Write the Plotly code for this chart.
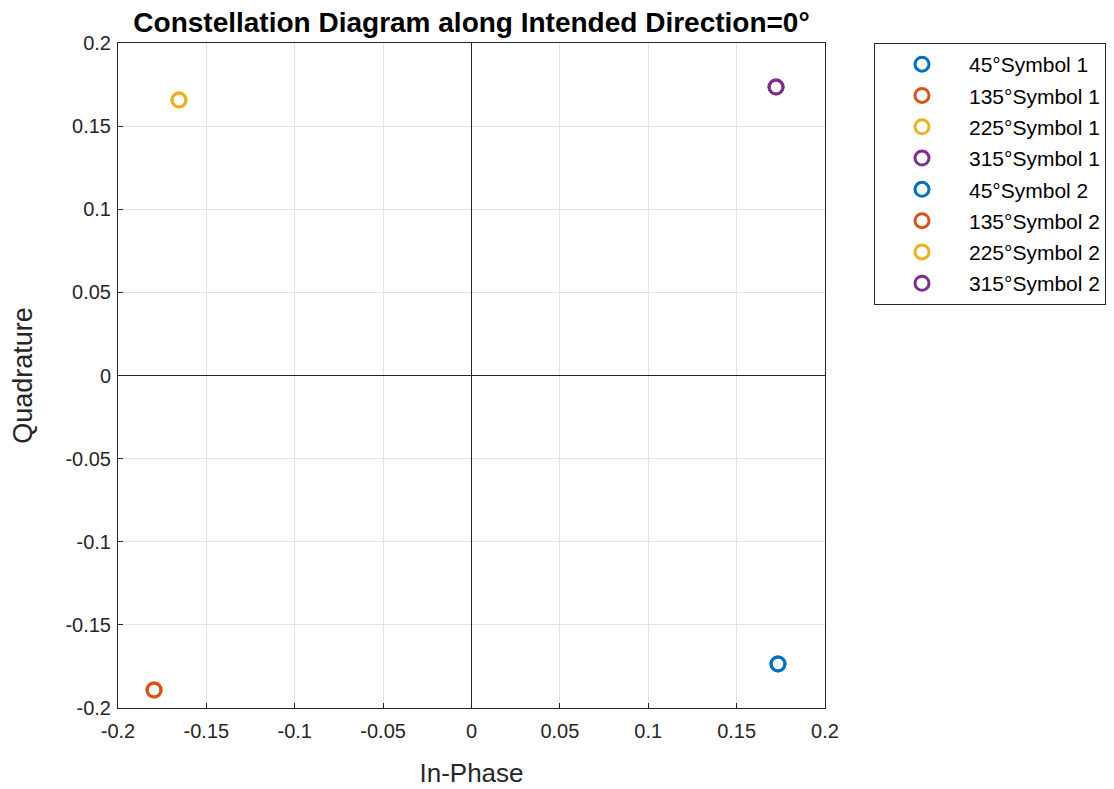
import plotly.graph_objects as go

labels = ["45°Symbol 1", "135°Symbol 1", "225°Symbol 1", "315°Symbol 1",
          "45°Symbol 2", "135°Symbol 2", "225°Symbol 2", "315°Symbol 2"]
x_vals = [0.1734, -0.1796, -0.1655, 0.1723, 0.1734, -0.1796, -0.1655, 0.1723]
y_vals = [-0.1735, -0.1892, 0.1657, 0.1735, -0.1735, -0.1892, 0.1657, 0.1735]
colors = ["#0072BD", "#D95319", "#EDB120", "#7E2F8E",
          "#0072BD", "#D95319", "#EDB120", "#7E2F8E"]
tick_vals = [-0.2, -0.15, -0.1, -0.05, 0, 0.05, 0.1, 0.15, 0.2]
tick_text = ["-0.2", "-0.15", "-0.1", "-0.05", "0", "0.05", "0.1", "0.15", "0.2"]

FONT = "Liberation Sans, Arial, Helvetica"
ML, MT, PW, PH = 110, 35, 707, 665

fig = go.Figure()
for i, (lab, xv, yv, c) in enumerate(zip(labels, x_vals, y_vals, colors)):
    fig.add_trace(go.Scatter(
        x=[xv], y=[yv], mode="markers", name=lab, legendgroup=f"g{i}",
        marker=dict(symbol="circle-open", size=14, color=c, line=dict(width=3, color=c)),
    ))

axis_common = dict(
    range=[-0.2, 0.2], tickvals=tick_vals, ticktext=tick_text,
    showgrid=True, gridcolor="#E3E3E3", gridwidth=1,
    zeroline=True, zerolinecolor="#262626", zerolinewidth=1,
    showline=True, linecolor="#262626", linewidth=1, mirror=True,
    ticks="inside", ticklen=5, tickcolor="#262626",
    tickfont=dict(family=FONT, size=20, color="#262626"),
)

fig.update_layout(
    width=1114, height=789,
    margin=dict(l=ML, r=1114 - ML - PW, t=MT, b=789 - MT - PH, autoexpand=False),
    paper_bgcolor="white", plot_bgcolor="white",
    title=dict(text="<b>Constellation Diagram along Intended Direction=0°</b>",
               x=(ML + PW / 2) / 1114, xanchor="center", y=1 - 14 / 789, yanchor="middle",
               font=dict(family=FONT, size=28, color="black")),
    xaxis=dict(**axis_common, ticklabelstandoff=5,
               title=dict(text="In-Phase", font=dict(family=FONT, size=26, color="#262626"), standoff=22)),
    yaxis=dict(**axis_common, ticklabelstandoff=2,
               title=dict(text="Quadrature", font=dict(family=FONT, size=27, color="#262626"), standoff=24)),
    legend=dict(x=(866 - ML) / PW, y=1, xanchor="left", yanchor="top",
                bordercolor="#262626", borderwidth=1, bgcolor="white",
                itemwidth=84, traceorder="grouped", tracegroupgap=1,
                font=dict(family=FONT, size=21, color="black")),
)

fig.write_html("out.html")
